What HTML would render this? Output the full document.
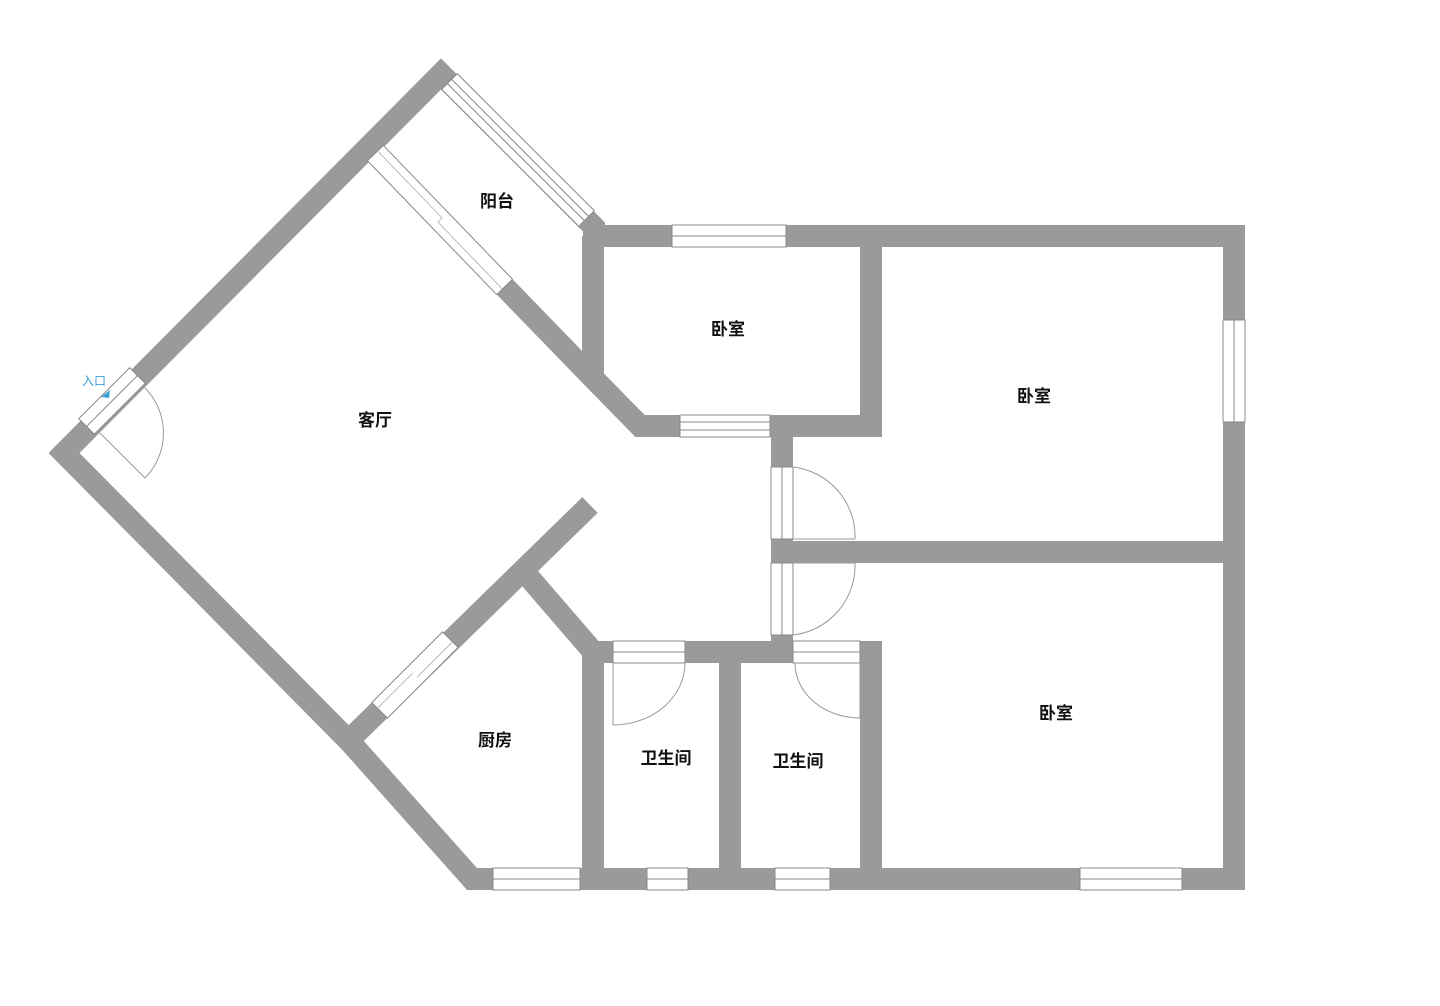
<!DOCTYPE html>
<html><head><meta charset="utf-8"><style>
html,body{margin:0;padding:0;background:#fff;}
svg{display:block;}
text{font-family:"Liberation Sans","Noto Sans CJK SC",sans-serif;font-weight:bold;font-size:17px;fill:#111;text-anchor:middle;}
</style></head><body>
<svg width="1440" height="1006" viewBox="0 0 1440 1006" xmlns="http://www.w3.org/2000/svg">
<g fill="none" stroke="#9a9a9a" stroke-width="22" stroke-linejoin="miter" stroke-miterlimit="10">
  <!-- outer -->
  <polygon points="64,453 441,74 594,227 594,236 1234,236 1234,879 472,879 350,742" />
  <polyline points="372,150 593,378 640,426 871,426" />
  <line x1="593" y1="236" x2="593" y2="380"/>
  <line x1="871" y1="236" x2="871" y2="437"/>
  <line x1="782" y1="426" x2="782" y2="663"/>
  <line x1="782" y1="552" x2="1234" y2="552"/>
  <line x1="871" y1="641" x2="871" y2="879"/>
  <polyline points="590,650 593,652 871,652"/>
  <line x1="593" y1="652" x2="593" y2="879"/>
  <line x1="730" y1="652" x2="730" y2="879"/>
  <line x1="590" y1="505" x2="345" y2="744"/>
  <line x1="527" y1="575" x2="596" y2="655"/>
</g>
<g fill="#fff" stroke="#888" stroke-width="1">
  <g transform="translate(518,150) rotate(45)"><rect x="-97" y="-11" width="194" height="22"/><line x1="-97" y1="-3" x2="97" y2="-3"/><line x1="-97" y1="3" x2="97" y2="3"/></g>
  <g transform="translate(440,220) rotate(46)"><rect x="-93" y="-11" width="186" height="22"/><line x1="-93" y1="-3" x2="0" y2="-3" stroke="#bbb"/><line x1="0" y1="3" x2="93" y2="3" stroke="#bbb"/><line x1="0" y1="-3" x2="0" y2="3" stroke="#bbb"/></g>
  <g transform="translate(112,401) rotate(-45)"><rect x="-36" y="-11" width="72" height="22"/><line x1="-36" y1="0" x2="36" y2="0"/></g>
  <g transform="translate(415,675) rotate(-45)"><rect x="-50" y="-11" width="100" height="22"/><line x1="-50" y1="-3" x2="0" y2="-3" stroke="#bbb"/><line x1="0" y1="3" x2="50" y2="3" stroke="#bbb"/></g>
  <rect x="672" y="225" width="114" height="22"/><line x1="672" y1="236" x2="786" y2="236"/>
  <rect x="680" y="415" width="90" height="22"/><line x1="680" y1="422" x2="770" y2="422"/><line x1="680" y1="430" x2="770" y2="430"/>
  <rect x="1223" y="320" width="22" height="102"/><line x1="1234" y1="320" x2="1234" y2="422"/>
  <rect x="493" y="868" width="87" height="22"/><line x1="493" y1="879" x2="580" y2="879"/>
  <rect x="647" y="868" width="41" height="22"/><line x1="647" y1="879" x2="688" y2="879"/>
  <rect x="775" y="868" width="55" height="22"/><line x1="775" y1="879" x2="830" y2="879"/>
  <rect x="1080" y="868" width="102" height="22"/><line x1="1080" y1="879" x2="1182" y2="879"/>
  <rect x="771" y="467" width="22" height="72"/><line x1="782" y1="467" x2="782" y2="539"/>
  <rect x="771" y="563" width="22" height="72"/><line x1="782" y1="563" x2="782" y2="635"/>
  <rect x="613" y="641" width="72" height="22"/><line x1="613" y1="652" x2="685" y2="652"/>
  <rect x="793" y="641" width="67" height="22"/><line x1="793" y1="652" x2="860" y2="652"/>
</g>
<g fill="none" stroke="#999" stroke-width="1">
  <line x1="100" y1="433" x2="145" y2="478"/><path d="M145,478 A64,64 0 0 0 145,388"/>
  <line x1="793" y1="539" x2="855" y2="539"/><path d="M793,467 A70,70 0 0 1 855,539"/>
  <line x1="793" y1="563" x2="855" y2="563"/><path d="M855,563 A70,70 0 0 1 793,635"/>
  <line x1="613" y1="663" x2="613" y2="725"/><path d="M613,725 A72,62 0 0 0 685,663"/>
  <line x1="860" y1="663" x2="860" y2="718"/><path d="M795,663 A65,55 0 0 0 860,718"/>
</g>
<text x="497" y="207">阳台</text>
<text x="728" y="335">卧室</text>
<text x="1034" y="402">卧室</text>
<text x="375" y="426">客厅</text>
<text x="1056" y="719">卧室</text>
<text x="495" y="746">厨房</text>
<text x="666" y="764">卫生间</text>
<text x="798" y="767">卫生间</text>
<text x="94" y="385" style="font-size:12px;font-weight:normal;fill:#3a9fd6">入口</text>
<polygon points="101,397 110,390 109,398" fill="#3a9fd6"/>
</svg>
</body></html>
